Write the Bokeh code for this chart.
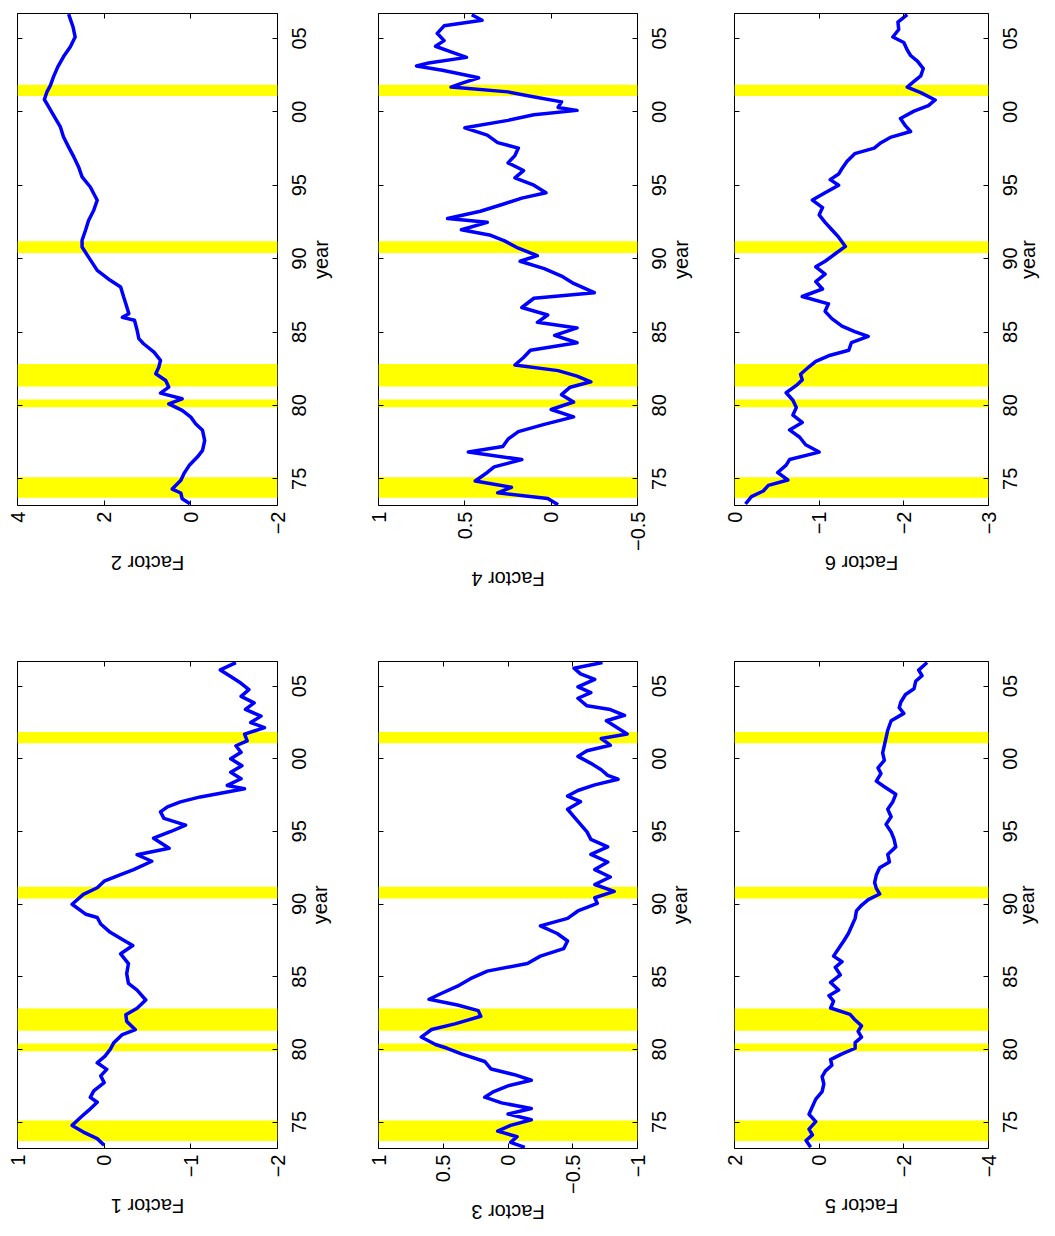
import math
from bokeh.plotting import figure
from bokeh.models import (Range1d, FixedTicker, LinearAxis, CustomJSTickFormatter,
                          BoxAnnotation)
from bokeh.layouts import row, column
from bokeh.embed import file_html
from bokeh.resources import INLINE

# ---------------- data ----------------
YEAR_START, YEAR_END = 1973.18, 2006.70
YEAR_TICKS = [1975, 1980, 1985, 1990, 1995, 2000, 2005]
YEAR_TICK_LABELS = ["75", "80", "85", "90", "95", "00", "05"]
YEAR_TITLE = "year"

REC_START = [1973.70, 1979.87, 1981.28, 1990.38, 2001.08]
REC_END = [1975.11, 1980.40, 1982.82, 1991.19, 2001.85]

F1_YEARS = [1973.40, 1973.86, 1974.31, 1974.77, 1975.33, 1975.80, 1976.36, 1976.70, 1977.15, 1977.72,
            1978.18, 1978.63, 1979.08, 1979.54, 1980.00, 1980.45, 1981.02, 1981.36, 1981.93, 1982.38,
            1982.83, 1983.40, 1984.08, 1984.54, 1985.22, 1985.90, 1986.58, 1987.15, 1987.50, 1988.06,
            1988.63, 1989.08, 1989.30, 1989.99, 1990.67, 1991.13, 1991.58, 1992.03, 1992.37, 1992.95,
            1993.40, 1993.85, 1994.54, 1995.00, 1995.44, 1995.90, 1996.35, 1996.70, 1997.04, 1997.38,
            1997.72, 1997.94, 1998.17, 1998.63, 1999.08, 1999.53, 2000.00, 2000.45, 2000.90, 2001.24,
            2001.70, 2002.15, 2002.50, 2002.94, 2003.40, 2003.85, 2004.30, 2004.76, 2005.20, 2005.67,
            2006.12, 2006.62]
F1_VALUES = [0.00, 0.08, 0.24, 0.37, 0.27, 0.18, 0.08, 0.16, 0.12, 0.00,
             0.04, -0.03, 0.08, -0.01, -0.07, -0.11, -0.21, -0.36, -0.26, -0.25,
             -0.38, -0.48, -0.38, -0.28, -0.26, -0.28, -0.19, -0.33, -0.23, -0.07,
             0.04, 0.08, 0.21, 0.37, 0.24, 0.08, 0.00, -0.19, -0.34, -0.55,
             -0.38, -0.75, -0.57, -0.77, -0.94, -0.69, -0.65, -0.73, -0.88, -1.11,
             -1.42, -1.62, -1.42, -1.58, -1.46, -1.59, -1.46, -1.58, -1.52, -1.65,
             -1.62, -1.85, -1.69, -1.81, -1.63, -1.73, -1.58, -1.67, -1.58, -1.46,
             -1.34, -1.52]

F2_YEARS = [1973.30, 1973.64, 1974.03, 1974.30, 1974.90, 1975.35, 1975.90, 1976.48, 1976.94, 1977.60,
            1978.30, 1978.75, 1979.20, 1979.66, 1980.10, 1980.45, 1980.84, 1981.25, 1981.70, 1982.16,
            1982.60, 1983.07, 1983.63, 1984.20, 1984.55, 1985.12, 1985.80, 1986.00, 1986.25, 1986.93,
            1987.38, 1988.07, 1988.52, 1989.20, 1990.10, 1990.79, 1991.25, 1991.93, 1992.60, 1993.30,
            1993.98, 1994.88, 1995.57, 1996.25, 1996.93, 1997.60, 1998.30, 1998.97, 1999.77, 2000.34,
            2000.84, 2001.36, 2001.80, 2002.38, 2003.06, 2003.75, 2004.43, 2005.10, 2005.80, 2006.66]
F2_VALUES = [0.02, 0.20, 0.23, 0.43, 0.23, 0.16, 0.04, -0.15, -0.27, -0.32,
             -0.27, -0.11, 0.00, 0.20, 0.51, 0.20, 0.70, 0.51, 0.58, 0.81,
             0.74, 0.70, 0.85, 1.09, 1.20, 1.24, 1.30, 1.58, 1.43, 1.50,
             1.55, 1.62, 1.86, 2.16, 2.36, 2.51, 2.51, 2.43, 2.36, 2.24,
             2.16, 2.32, 2.51, 2.59, 2.70, 2.82, 2.94, 3.01, 3.17, 3.28,
             3.38, 3.32, 3.24, 3.17, 3.07, 2.94, 2.78, 2.67, 2.72, 2.82]

F3_YEARS = [1973.26, 1973.60, 1973.99, 1974.38, 1974.77, 1975.16, 1975.55, 1975.93, 1976.32, 1976.71,
            1977.10, 1977.49, 1977.88, 1978.26, 1978.65, 1979.17, 1979.69, 1980.08, 1980.34, 1980.85,
            1981.37, 1981.76, 1982.28, 1982.67, 1983.06, 1983.45, 1983.83, 1984.35, 1984.87, 1985.39,
            1985.91, 1986.42, 1986.94, 1987.46, 1987.98, 1988.50, 1989.02, 1989.53, 1990.05, 1990.44,
            1990.88, 1991.35, 1991.87, 1992.38, 1992.90, 1993.42, 1993.94, 1994.46, 1994.97, 1995.49,
            1996.01, 1996.53, 1997.05, 1997.44, 1997.82, 1998.21, 1998.60, 1998.86, 1999.25, 1999.69,
            2000.17, 2000.56, 2000.94, 2001.40, 2001.71, 2002.10, 2002.62, 2003.00, 2003.39, 2003.65,
            2004.17, 2004.56, 2004.95, 2005.47, 2005.85, 2006.24, 2006.63]
F3_VALUES = [-0.13, -0.02, -0.07, 0.08, -0.02, -0.18, 0.00, -0.18, 0.05, 0.18,
             0.11, 0.00, -0.18, -0.05, 0.13, 0.18, 0.36, 0.47, 0.56, 0.67,
             0.59, 0.41, 0.21, 0.23, 0.39, 0.61, 0.52, 0.39, 0.29, 0.16,
             -0.15, -0.25, -0.43, -0.46, -0.38, -0.25, -0.46, -0.54, -0.69, -0.67,
             -0.82, -0.67, -0.79, -0.67, -0.77, -0.64, -0.77, -0.64, -0.61, -0.56,
             -0.51, -0.46, -0.56, -0.46, -0.54, -0.67, -0.85, -0.77, -0.72, -0.64,
             -0.54, -0.61, -0.79, -0.72, -0.92, -0.85, -0.76, -0.90, -0.79, -0.61,
             -0.54, -0.64, -0.54, -0.67, -0.56, -0.51, -0.73]

F4_YEARS = [1973.23, 1973.66, 1974.04, 1974.42, 1974.85, 1975.43, 1975.81, 1976.31, 1976.82, 1977.20,
            1977.70, 1978.21, 1978.71, 1979.22, 1979.72, 1980.23, 1980.73, 1981.24, 1981.61, 1981.99,
            1982.37, 1982.75, 1983.26, 1983.76, 1984.27, 1984.77, 1985.28, 1985.66, 1986.16, 1986.67,
            1987.30, 1987.68, 1988.31, 1988.81, 1989.32, 1989.82, 1990.20, 1990.71, 1991.21, 1991.59,
            1991.97, 1992.47, 1992.73, 1993.23, 1993.74, 1994.12, 1994.49, 1995.00, 1995.50, 1996.00,
            1996.52, 1997.02, 1997.53, 1997.90, 1998.41, 1998.91, 1999.42, 1999.80, 2000.10, 2000.30,
            2000.68, 2001.06, 2001.36, 2001.69, 2001.94, 2002.32, 2002.83, 2003.13, 2003.33, 2003.71,
            2004.09, 2004.47, 2004.85, 2005.35, 2005.86, 2006.24, 2006.62]
F4_VALUES = [-0.04, 0.02, 0.31, 0.23, 0.44, 0.37, 0.33, 0.17, 0.48, 0.28,
             0.25, 0.19, 0.04, -0.13, 0.00, -0.13, -0.06, -0.11, -0.23, -0.15,
             -0.04, 0.21, 0.16, 0.12, -0.15, -0.02, -0.15, 0.08, 0.02, 0.17,
             0.10, -0.25, -0.13, -0.06, 0.04, 0.18, 0.08, 0.19, 0.27, 0.35,
             0.52, 0.37, 0.60, 0.41, 0.27, 0.17, 0.03, 0.10, 0.21, 0.16,
             0.25, 0.21, 0.19, 0.31, 0.37, 0.50, 0.25, 0.10, -0.15, -0.04,
             -0.06, 0.12, 0.25, 0.58, 0.52, 0.42, 0.63, 0.78, 0.71, 0.49,
             0.58, 0.67, 0.62, 0.66, 0.62, 0.40, 0.46]

F5_YEARS = [1973.26, 1973.73, 1974.12, 1974.51, 1975.03, 1975.54, 1976.06, 1976.58, 1977.10, 1977.62,
            1978.13, 1978.52, 1978.91, 1979.30, 1979.69, 1980.08, 1980.47, 1980.85, 1981.24, 1981.63,
            1982.02, 1982.41, 1982.85, 1983.32, 1983.70, 1984.09, 1984.61, 1985.13, 1985.65, 1986.04,
            1986.42, 1986.94, 1987.46, 1987.98, 1988.50, 1989.02, 1989.53, 1989.92, 1990.31, 1990.70,
            1991.09, 1991.48, 1992.00, 1992.51, 1992.90, 1993.42, 1993.94, 1994.46, 1994.97, 1995.49,
            1996.01, 1996.53, 1997.05, 1997.56, 1998.08, 1998.47, 1998.99, 1999.38, 1999.90, 2000.41,
            2000.93, 2001.45, 2001.97, 2002.62, 2003.13, 2003.52, 2003.91, 2004.43, 2004.82, 2005.34,
            2005.73, 2006.11, 2006.63]
F5_VALUES = [0.20, 0.31, 0.16, 0.24, 0.08, 0.24, 0.16, 0.08, -0.07, -0.11,
             -0.07, -0.15, -0.30, -0.27, -0.54, -0.85, -0.85, -1.00, -0.92, -1.00,
             -0.85, -0.73, -0.27, -0.34, -0.23, -0.46, -0.27, -0.50, -0.38, -0.54,
             -0.34, -0.46, -0.58, -0.69, -0.77, -0.85, -0.88, -1.00, -1.16, -1.43,
             -1.35, -1.31, -1.35, -1.43, -1.66, -1.62, -1.81, -1.77, -1.70, -1.58,
             -1.70, -1.62, -1.74, -1.81, -1.54, -1.35, -1.46, -1.39, -1.54, -1.50,
             -1.54, -1.58, -1.62, -1.70, -2.00, -1.89, -1.93, -2.04, -2.24, -2.28,
             -2.43, -2.35, -2.55]

F6_YEARS = [1973.28, 1973.79, 1974.17, 1974.55, 1974.92, 1975.43, 1975.93, 1976.31, 1976.82, 1977.32,
            1977.83, 1978.33, 1978.84, 1979.34, 1979.85, 1980.35, 1980.86, 1981.36, 1981.74, 1982.12,
            1982.63, 1983.00, 1983.38, 1983.76, 1984.27, 1984.70, 1985.03, 1985.40, 1985.91, 1986.41,
            1986.92, 1987.42, 1987.93, 1988.43, 1988.94, 1989.44, 1989.82, 1990.33, 1990.83, 1991.46,
            1991.97, 1992.47, 1992.98, 1993.48, 1993.99, 1994.49, 1995.00, 1995.38, 1995.76, 1996.14,
            1996.64, 1997.15, 1997.53, 1997.90, 1998.28, 1998.66, 1999.04, 1999.55, 2000.05, 2000.43,
            2000.81, 2001.31, 2001.69, 2002.07, 2002.45, 2002.95, 2003.46, 2003.84, 2004.22, 2004.72,
            2005.10, 2005.61, 2006.11, 2006.62]
F6_VALUES = [-0.13, -0.20, -0.34, -0.40, -0.63, -0.51, -0.61, -0.65, -1.00, -0.84,
             -0.77, -0.65, -0.80, -0.69, -0.73, -0.69, -0.61, -0.73, -0.80, -0.78,
             -0.88, -0.96, -1.11, -1.35, -1.38, -1.58, -1.42, -1.27, -1.15, -1.07,
             -1.11, -0.80, -1.04, -0.96, -1.07, -0.96, -1.07, -1.19, -1.31, -1.23,
             -1.15, -1.07, -1.00, -1.04, -0.92, -1.07, -1.23, -1.13, -1.23, -1.27,
             -1.33, -1.42, -1.65, -1.73, -1.85, -2.08, -2.02, -1.96, -2.12, -2.29,
             -2.37, -2.20, -2.04, -2.12, -2.20, -2.23, -2.16, -2.08, -2.04, -2.00,
             -1.87, -1.94, -1.93, -2.04]

F1_RANGE, F1_TICKS, F1_TICK_LABELS = (1, -2), [1, 0, -1, -2], ["1", "0", "\u22121", "\u22122"]
F2_RANGE, F2_TICKS, F2_TICK_LABELS = (4, -2), [4, 2, 0, -2], ["4", "2", "0", "\u22122"]
F3_RANGE, F3_TICKS, F3_TICK_LABELS = (1, -1), [1, 0.5, 0, -0.5, -1], ["1", "0.5", "0", "\u22120.5", "\u22121"]
F4_RANGE, F4_TICKS, F4_TICK_LABELS = (1, -0.5), [1, 0.5, 0, -0.5], ["1", "0.5", "0", "\u22120.5"]
F5_RANGE, F5_TICKS, F5_TICK_LABELS = (2, -4), [2, 0, -2, -4], ["2", "0", "\u22122", "\u22124"]
F6_RANGE, F6_TICKS, F6_TICK_LABELS = (0, -3), [0, -1, -2, -3], ["0", "\u22121", "\u22122", "\u22123"]

# ---------------- styling ----------------
FONT = "Liberation Sans"
FS = "20px"
BLUE = "#0000ff"
YELLOW = "#ffff00"
# rotated tick labels are anchored at one end; these half text lengths (px) re-centre them
HALF_YEAR_LABEL_PX = 11.1
HALF_YEAR_TITLE_PX = 19.5
HALF_FACTOR_TITLE_PX = 36.7
YEAR_LABEL_STANDOFF = 22


def formatter(tvals, tlabels):
    return CustomJSTickFormatter(
        args=dict(tvals=list(tvals), tlabels=list(tlabels)),
        code="const i = tvals.indexOf(tick); return i < 0 ? '' : tlabels[i];")


def base_axis(ticks, labels=None, orient=None, standoff=0, ticks_visible=True):
    kw = {}
    if orient is not None:
        kw["major_label_orientation"] = orient
    ax = LinearAxis(ticker=FixedTicker(ticks=list(ticks)),
                    formatter=formatter(ticks, labels if labels else [""] * len(ticks)), **kw)
    ax.axis_line_color = None
    ax.minor_tick_line_color = None
    ax.major_tick_out = 0
    if ticks_visible:
        ax.major_tick_in = 5
        ax.major_tick_line_color = "black"
        ax.major_tick_line_width = 1
    else:
        ax.major_tick_in = 0
        ax.major_tick_line_color = None
    ax.major_label_standoff = standoff
    ax.major_label_text_font = FONT
    if labels:
        ax.major_label_text_color = "black"
        ax.major_label_text_font_size = FS
    else:
        ax.major_label_text_color = None
        ax.major_label_text_font_size = "0px"
    return ax


def make_panel(name, years, values, vrange, vticks, vlabels, title_standoff, year_title_standoff,
               bl, fw, br, bt, fh, bb):
    p = figure(width=bl + fw + br, height=bt + fh + bb,
               x_range=Range1d(vrange[0], vrange[1]),
               y_range=Range1d(YEAR_START, YEAR_END),
               x_axis_location=None, y_axis_location=None,
               output_backend="svg", toolbar_location=None,
               min_border_left=bl, min_border_right=br,
               min_border_top=bt, min_border_bottom=bb)
    p.xgrid.visible = False
    p.ygrid.visible = False
    p.outline_line_color = "black"
    p.outline_line_width = 1
    p.background_fill_color = "white"
    p.border_fill_color = "white"

    for s, e in zip(REC_START, REC_END):
        p.add_layout(BoxAnnotation(bottom=s, top=e, fill_color=YELLOW, fill_alpha=1.0,
                                   line_color=None, level="underlay"))

    p.line(x=values, y=years, line_color=BLUE, line_width=3.5, line_join="round")

    yr_per_px = (YEAR_END - YEAR_START) / fh
    val_per_px = (vrange[0] - vrange[1]) / fw

    # below: value ticks + labels, then the (upside-down) factor title
    p.add_layout(base_axis(vticks, vlabels, math.pi / 2, 6), "below")
    mid_val = (vrange[0] + vrange[1]) / 2
    title_tick = [mid_val + HALF_FACTOR_TITLE_PX * val_per_px]
    p.add_layout(base_axis(title_tick, [name], math.pi, title_standoff, False), "below")

    # top / left: mirrored inward ticks
    p.add_layout(base_axis(vticks), "above")
    p.add_layout(base_axis(YEAR_TICKS), "left")

    # right: inward ticks, year tick labels (rotated), then the "year" title
    p.add_layout(base_axis(YEAR_TICKS), "right")
    lab_ticks = [t - HALF_YEAR_LABEL_PX * yr_per_px for t in YEAR_TICKS]
    p.add_layout(base_axis(lab_ticks, YEAR_TICK_LABELS, math.pi / 2, YEAR_LABEL_STANDOFF, False),
                 "right")
    mid_year = (YEAR_START + YEAR_END) / 2
    p.add_layout(base_axis([mid_year - HALF_YEAR_TITLE_PX * yr_per_px], [YEAR_TITLE],
                           math.pi / 2, year_title_standoff, False), "right")
    return p


# column geometry: (border_left, frame_width, border_right)
C1 = (17, 260, 83)
C2 = (18, 259, 83)
C3 = (14, 254, 67)
# row geometry: (border_top, frame_height, border_bottom)
R1 = (13, 492, 143)
R2 = (13, 492, 83)

p2 = make_panel("Factor 2", F2_YEARS, F2_VALUES, F2_RANGE, F2_TICKS, F2_TICK_LABELS, 25, 4, *C1, *R1)
p4 = make_panel("Factor 4", F4_YEARS, F4_VALUES, F4_RANGE, F4_TICKS, F4_TICK_LABELS, 25, 4, *C2, *R1)
p6 = make_panel("Factor 6", F6_YEARS, F6_VALUES, F6_RANGE, F6_TICKS, F6_TICK_LABELS, 25, 0, *C3, *R1)
p1 = make_panel("Factor 1", F1_YEARS, F1_VALUES, F1_RANGE, F1_TICKS, F1_TICK_LABELS, 25, 4, *C1, *R2)
p3 = make_panel("Factor 3", F3_YEARS, F3_VALUES, F3_RANGE, F3_TICKS, F3_TICK_LABELS, 15, 4, *C2, *R2)
p5 = make_panel("Factor 5", F5_YEARS, F5_VALUES, F5_RANGE, F5_TICKS, F5_TICK_LABELS, 25, 0, *C3, *R2)

layout = column(row(p2, p4, p6), row(p1, p3, p5))
open("out.html", "w").write(file_html(layout, INLINE, "Factors"))
